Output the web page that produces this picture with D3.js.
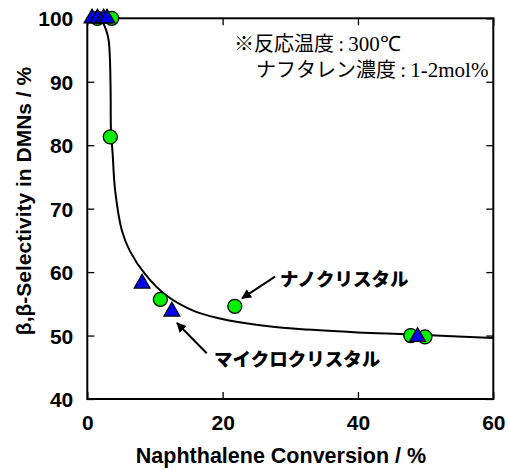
<!DOCTYPE html>
<html>
<head>
<meta charset="utf-8">
<script src="https://cdn.jsdelivr.net/npm/d3@7"></script>
<style>
  body { margin: 0; background: #fff; }
  svg text { font-family: "Liberation Sans", Arial, sans-serif; }
</style>
</head>
<body>
<script>
// data
var nanoX = [1.5, 3.6, 3.4, 10.8, 21.8, 47.8, 49.9];
var nanoY = [100, 100, 81.3, 55.7, 54.6, 50.0, 49.8];
var microX = [0.7, 1.5, 2.4, 2.9, 8.1, 12.5, 48.8];
var microY = [100, 100, 100, 100, 58.2, 53.8, 49.8];
var fitX = [2.0, 2.8, 3.16, 3.35, 3.45, 3.5, 3.75, 4.1, 5.1, 6.3, 8.6, 11.7, 15.9, 19.6, 25.0, 30.4, 40.0, 47.7, 60.0];
var fitY = [100, 98.1, 96.5, 93.4, 88.1, 82.3, 78.6, 73.0, 66.6, 63.3, 59.6, 56.3, 53.8, 52.7, 51.7, 51.1, 50.5, 50.2, 49.6];
var xTicks = [0, 20, 40, 60];
var yTicks = [40, 50, 60, 70, 80, 90, 100];

var W = 508, H = 470;
var L = 87.3, R = 493.3, T = 18.3, B = 399;

var x = d3.scaleLinear().domain([0, 60]).range([L, R]);
var y = d3.scaleLinear().domain([40, 100]).range([B, T]);

var svg = d3.select("body").append("svg")
    .attr("width", W)
    .attr("height", H);

svg.append("defs").append("marker")
    .attr("id", "arr")
    .attr("viewBox", "0 0 10 10")
    .attr("refX", 9).attr("refY", 5)
    .attr("markerWidth", 5).attr("markerHeight", 5)
    .attr("orient", "auto")
  .append("path")
    .attr("d", "M0,0 L10,5 L0,10 z")
    .attr("fill", "#000");

// axes: ticks inward on all four sides
var axB = svg.append("g").attr("transform", "translate(0," + B + ")")
    .call(d3.axisBottom(x).tickValues(xTicks).tickSize(-7).tickPadding(16));
var axT = svg.append("g").attr("transform", "translate(0," + T + ")")
    .call(d3.axisTop(x).tickValues(xTicks).tickSize(-7).tickFormat(""));
var axL = svg.append("g").attr("transform", "translate(" + L + ",0)")
    .call(d3.axisLeft(y).tickValues(yTicks).tickSize(-7).tickPadding(14));
var axR = svg.append("g").attr("transform", "translate(" + R + ",0)")
    .call(d3.axisRight(y).tickValues(yTicks).tickSize(-7).tickFormat(""));

[axB, axT, axL, axR].forEach(function(g) {
  g.select(".domain").remove();
  g.selectAll(".tick line").attr("stroke", "#000").attr("stroke-width", 1.3);
  g.selectAll("text")
    .attr("fill", "#000")
    .style("font-size", "21px")
    .style("font-weight", "bold");
});
axL.selectAll("text").attr("dy", "0.36em");

svg.append("rect")
    .attr("x", L).attr("y", T)
    .attr("width", R - L).attr("height", B - T)
    .attr("fill", "none")
    .attr("stroke", "#000")
    .attr("stroke-width", 2);

// fitted curve
var line = d3.line()
    .x(function(d) { return x(d[0]); })
    .y(function(d) { return y(d[1]); })
    .curve(d3.curveCatmullRom.alpha(0.5));

svg.append("path")
    .datum(d3.zip(fitX, fitY))
    .attr("d", line)
    .attr("fill", "none")
    .attr("stroke", "#000")
    .attr("stroke-width", 2);

// markers
svg.append("g").selectAll("circle")
    .data(d3.zip(nanoX, nanoY))
  .enter().append("circle")
    .attr("cx", function(d) { return x(d[0]); })
    .attr("cy", function(d) { return y(d[1]); })
    .attr("r", 7)
    .attr("fill", "#00f000")
    .attr("stroke", "#000")
    .attr("stroke-width", 1.3);

var tri = d3.symbol().type(d3.symbolTriangle).size(110);
svg.append("g").selectAll("path")
    .data(d3.zip(microX, microY))
  .enter().append("path")
    .attr("d", tri)
    .attr("transform", function(d) { return "translate(" + x(d[0]) + "," + y(d[1]) + ")"; })
    .attr("fill", "#0000f0")
    .attr("stroke", "#000")
    .attr("stroke-width", 1.2);

// axis titles
svg.append("text")
    .attr("x", 281).attr("y", 463)
    .attr("text-anchor", "middle")
    .style("font-size", "21.5px")
    .style("font-weight", "bold")
    .text("Naphthalene Conversion / %");

svg.append("text")
    .attr("transform", "translate(31,201) rotate(-90)")
    .attr("text-anchor", "middle")
    .style("font-size", "21px")
    .style("font-weight", "bold")
    .text("β,β-Selectivity in DMNs / %");

// conditions note
var jp = '"Noto Sans CJK JP", sans-serif';
var serif = '"Liberation Serif", "Times New Roman", serif';
var n1 = svg.append("text").attr("x", 234).attr("y", 51).style("font-size", "20px");
n1.append("tspan").style("font-family", jp).text("※反応温度");
n1.append("tspan").style("font-family", serif).style("font-size", "21px").text("\u2009:\u2009300℃");
var n2 = svg.append("text").attr("x", 256).attr("y", 77).style("font-size", "20px");
n2.append("tspan").style("font-family", jp).text("ナフタレン濃度");
n2.append("tspan").style("font-family", serif).style("font-size", "21px").text("\u2009:\u20091-2mol%");

// labels with arrows
svg.append("line")
    .attr("x1", 275).attr("y1", 276.7).attr("x2", 242).attr("y2", 298.3)
    .attr("stroke", "#000").attr("stroke-width", 2)
    .attr("marker-end", "url(#arr)");
svg.append("text")
    .attr("x", 280).attr("y", 286)
    .style("font-family", jp)
    .style("font-size", "18.5px")
    .style("font-weight", "900")
    .text("ナノクリスタル");

svg.append("line")
    .attr("x1", 206.7).attr("y1", 353.3).attr("x2", 177).attr("y2", 323)
    .attr("stroke", "#000").attr("stroke-width", 2)
    .attr("marker-end", "url(#arr)");
svg.append("text")
    .attr("x", 214).attr("y", 366)
    .style("font-family", jp)
    .style("font-size", "18.5px")
    .style("font-weight", "900")
    .text("マイクロクリスタル");
</script>
</body>
</html>
